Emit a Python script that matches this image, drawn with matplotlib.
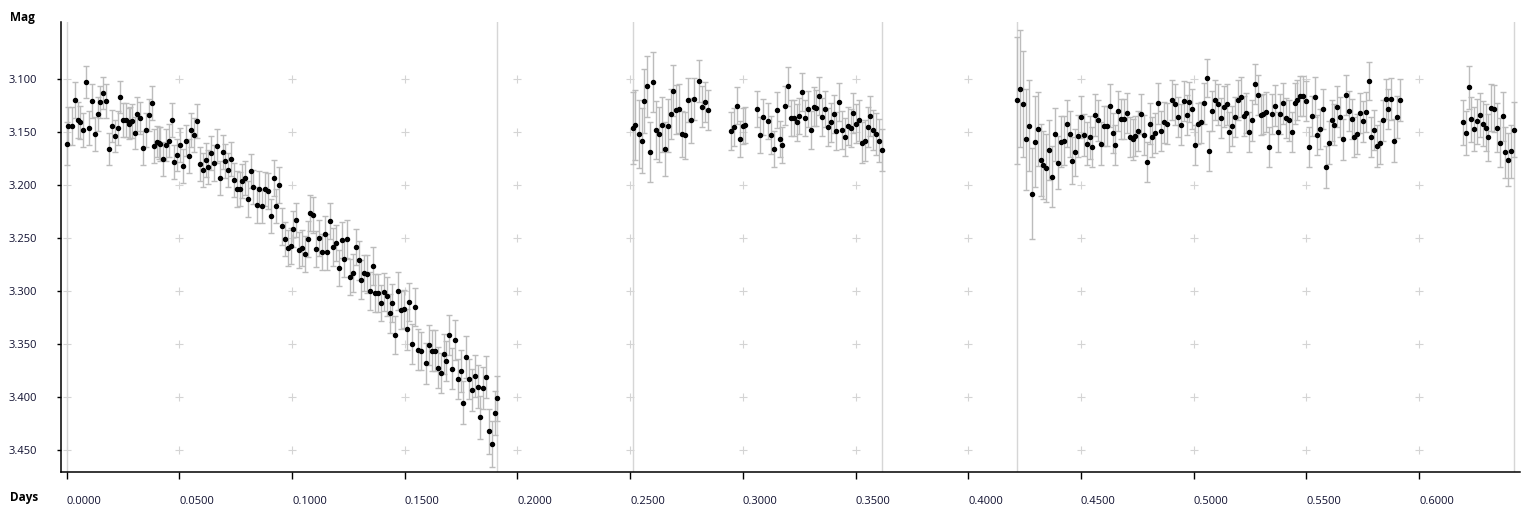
"""Light curve: magnitude vs days with error bars."""

import numpy as np
import matplotlib
matplotlib.use('Agg')
import matplotlib.pyplot as plt

plt.rcParams['font.family'] = ['Open Sans', 'DejaVu Sans']

# --- night 1 -------------------------------------------------------------
days1 = [
    0.0000, 0.0007, 0.0022, 0.0037, 0.0049, 0.0059, 0.0071, 0.0086, 0.0098, 0.0111,
    0.0126, 0.0138, 0.0148, 0.0160, 0.0173, 0.0188, 0.0200, 0.0213, 0.0226, 0.0236,
    0.0248, 0.0263, 0.0275, 0.0282, 0.0291, 0.0303, 0.0311, 0.0324, 0.0337, 0.0350,
    0.0365, 0.0378, 0.0387, 0.0401, 0.0408, 0.0415, 0.0426, 0.0439, 0.0453, 0.0466,
    0.0475, 0.0488, 0.0503, 0.0515, 0.0528, 0.0543, 0.0550, 0.0565, 0.0577, 0.0590,
    0.0603, 0.0617, 0.0627, 0.0639, 0.0652, 0.0665, 0.0679, 0.0692, 0.0702, 0.0716,
    0.0728, 0.0741, 0.0754, 0.0768, 0.0778, 0.0791, 0.0803, 0.0816, 0.0829, 0.0843,
    0.0853, 0.0865, 0.0878, 0.0892, 0.0905, 0.0918, 0.0927, 0.0941, 0.0954, 0.0967,
    0.0980, 0.0994, 0.1004, 0.1016, 0.1031, 0.1043, 0.1057, 0.1071, 0.1078, 0.1091,
    0.1105, 0.1118, 0.1131, 0.1145, 0.1154, 0.1167, 0.1181, 0.1193, 0.1207, 0.1220,
    0.1229, 0.1242, 0.1256, 0.1269, 0.1282, 0.1295, 0.1304, 0.1318, 0.1331, 0.1344,
    0.1358, 0.1366, 0.1380, 0.1393, 0.1406, 0.1420, 0.1433, 0.1443, 0.1455, 0.1469,
    0.1482, 0.1495, 0.1508, 0.1517, 0.1531, 0.1544, 0.1557, 0.1571, 0.1593, 0.1606,
    0.1619, 0.1633, 0.1646, 0.1659, 0.1673, 0.1681, 0.1695, 0.1708, 0.1721, 0.1735,
    0.1748, 0.1757, 0.1770, 0.1784, 0.1797, 0.1810, 0.1823, 0.1832, 0.1846, 0.1859,
    0.1872, 0.1886, 0.1899, 0.1908,
]
mag1 = [
    3.161, 3.144, 3.144, 3.120, 3.139, 3.141, 3.148, 3.103, 3.146, 3.121,
    3.152, 3.133, 3.122, 3.113, 3.121, 3.166, 3.144, 3.154, 3.146, 3.117,
    3.139, 3.139, 3.142, 3.141, 3.140, 3.151, 3.133, 3.137, 3.165, 3.148,
    3.134, 3.123, 3.163, 3.159, 3.160, 3.161, 3.175, 3.162, 3.158, 3.139,
    3.178, 3.172, 3.162, 3.182, 3.158, 3.173, 3.148, 3.153, 3.140, 3.180,
    3.186, 3.176, 3.183, 3.170, 3.179, 3.163, 3.193, 3.169, 3.177, 3.186,
    3.175, 3.195, 3.204, 3.204, 3.196, 3.193, 3.213, 3.187, 3.202, 3.219,
    3.204, 3.220, 3.204, 3.206, 3.229, 3.193, 3.220, 3.200, 3.239, 3.251,
    3.259, 3.257, 3.241, 3.233, 3.261, 3.259, 3.265, 3.251, 3.226, 3.228,
    3.260, 3.250, 3.263, 3.246, 3.263, 3.234, 3.258, 3.255, 3.278, 3.252,
    3.270, 3.251, 3.287, 3.283, 3.258, 3.271, 3.289, 3.283, 3.284, 3.300,
    3.276, 3.302, 3.302, 3.311, 3.301, 3.305, 3.321, 3.311, 3.341, 3.300,
    3.318, 3.317, 3.336, 3.310, 3.350, 3.315, 3.355, 3.356, 3.368, 3.351,
    3.356, 3.356, 3.372, 3.377, 3.359, 3.366, 3.341, 3.373, 3.346, 3.383,
    3.375, 3.405, 3.362, 3.383, 3.393, 3.380, 3.390, 3.419, 3.391, 3.381,
    3.432, 3.444, 3.415, 3.401,
]
err1 = [
    0.020, 0.018, 0.018, 0.017, 0.017, 0.016, 0.016, 0.015, 0.016, 0.016,
    0.016, 0.016, 0.015, 0.015, 0.016, 0.015, 0.015, 0.015, 0.016, 0.015,
    0.016, 0.016, 0.015, 0.015, 0.016, 0.015, 0.016, 0.015, 0.016, 0.016,
    0.015, 0.016, 0.016, 0.015, 0.015, 0.016, 0.016, 0.015, 0.016, 0.016,
    0.016, 0.015, 0.016, 0.016, 0.015, 0.016, 0.016, 0.016, 0.016, 0.016,
    0.016, 0.016, 0.016, 0.016, 0.017, 0.016, 0.016, 0.016, 0.016, 0.016,
    0.016, 0.016, 0.017, 0.016, 0.016, 0.016, 0.017, 0.016, 0.016, 0.017,
    0.017, 0.016, 0.016, 0.017, 0.016, 0.017, 0.016, 0.017, 0.017, 0.016,
    0.017, 0.017, 0.017, 0.016, 0.017, 0.017, 0.017, 0.017, 0.017, 0.017,
    0.017, 0.017, 0.017, 0.017, 0.017, 0.017, 0.018, 0.017, 0.017, 0.017,
    0.017, 0.018, 0.017, 0.018, 0.017, 0.018, 0.018, 0.017, 0.018, 0.018,
    0.018, 0.018, 0.018, 0.017, 0.018, 0.018, 0.018, 0.018, 0.018, 0.018,
    0.018, 0.018, 0.019, 0.018, 0.019, 0.018, 0.019, 0.018, 0.019, 0.019,
    0.019, 0.019, 0.019, 0.019, 0.019, 0.019, 0.019, 0.019, 0.019, 0.019,
    0.020, 0.020, 0.020, 0.019, 0.020, 0.020, 0.020, 0.020, 0.020, 0.020,
    0.021, 0.022, 0.021, 0.021,
]

# --- night 2 -------------------------------------------------------------
days2 = [
    0.2511, 0.2520, 0.2538, 0.2551, 0.2560, 0.2573, 0.2587, 0.2600, 0.2613, 0.2626,
    0.2640, 0.2653, 0.2666, 0.2680, 0.2689, 0.2702, 0.2715, 0.2728, 0.2742, 0.2755,
    0.2768, 0.2782, 0.2804, 0.2817, 0.2831, 0.2844,
    0.2946, 0.2959, 0.2972, 0.2986, 0.2999, 0.3008,
    0.3061, 0.3075, 0.3088, 0.3110, 0.3123, 0.3137, 0.3150, 0.3163, 0.3172, 0.3186,
    0.3199, 0.3212, 0.3225, 0.3239, 0.3248, 0.3261, 0.3274, 0.3288, 0.3301, 0.3314,
    0.3323, 0.3336, 0.3350, 0.3363, 0.3376, 0.3390, 0.3403, 0.3412, 0.3425, 0.3438,
    0.3452, 0.3465, 0.3478, 0.3487, 0.3500, 0.3514, 0.3527, 0.3540, 0.3554, 0.3563,
    0.3576, 0.3589, 0.3602, 0.3616,
]
mag2 = [
    3.146, 3.143, 3.152, 3.158, 3.121, 3.107, 3.169, 3.103, 3.148, 3.152,
    3.143, 3.166, 3.144, 3.133, 3.111, 3.129, 3.128, 3.152, 3.153, 3.120,
    3.139, 3.119, 3.102, 3.126, 3.122, 3.129,
    3.149, 3.145, 3.125, 3.157, 3.144, 3.143,
    3.128, 3.153, 3.136, 3.140, 3.153, 3.166, 3.129, 3.157, 3.162, 3.125,
    3.107, 3.137, 3.137, 3.141, 3.135, 3.112, 3.137, 3.128, 3.148, 3.126,
    3.127, 3.116, 3.136, 3.128, 3.145, 3.141, 3.133, 3.149, 3.122, 3.148,
    3.155, 3.144, 3.146, 3.132, 3.142, 3.139, 3.160, 3.158, 3.145, 3.135,
    3.148, 3.152, 3.158, 3.167,
]
err2 = [
    0.034, 0.033, 0.032, 0.031, 0.030, 0.029, 0.028, 0.028, 0.027, 0.026,
    0.026, 0.025, 0.025, 0.024, 0.024, 0.023, 0.023, 0.022, 0.022, 0.021,
    0.021, 0.020, 0.020, 0.019, 0.019, 0.019,
    0.018, 0.018, 0.017, 0.017, 0.017, 0.017,
    0.017, 0.017, 0.017, 0.017, 0.018, 0.017, 0.017, 0.017, 0.017, 0.018,
    0.018, 0.017, 0.017, 0.017, 0.017, 0.018, 0.017, 0.017, 0.018, 0.018,
    0.017, 0.018, 0.018, 0.017, 0.018, 0.018, 0.018, 0.018, 0.018, 0.018,
    0.018, 0.018, 0.018, 0.019, 0.018, 0.019, 0.019, 0.019, 0.019, 0.019,
    0.019, 0.020, 0.020, 0.020,
]

# --- night 3 -------------------------------------------------------------
days3 = [
    0.4215, 0.4228, 0.4241, 0.4255, 0.4268, 0.4281, 0.4295, 0.4308, 0.4321, 0.4330,
    0.4343, 0.4357, 0.4370, 0.4383, 0.4397, 0.4410, 0.4423, 0.4437, 0.4450, 0.4459,
    0.4472, 0.4485, 0.4499, 0.4512, 0.4525, 0.4539, 0.4547, 0.4561, 0.4574, 0.4587,
    0.4601, 0.4614, 0.4627, 0.4641, 0.4650, 0.4663, 0.4676, 0.4690, 0.4703, 0.4716,
    0.4729, 0.4738, 0.4752, 0.4765, 0.4778, 0.4792, 0.4805, 0.4814, 0.4827, 0.4840,
    0.4854, 0.4867, 0.4880, 0.4902, 0.4916, 0.4929, 0.4942, 0.4956, 0.4969, 0.4978,
    0.4991, 0.5004, 0.5018, 0.5031, 0.5044, 0.5058, 0.5067, 0.5080, 0.5093, 0.5107,
    0.5120, 0.5133, 0.5146, 0.5155, 0.5169, 0.5182, 0.5195, 0.5209, 0.5222, 0.5231,
    0.5244, 0.5257, 0.5271, 0.5284, 0.5297, 0.5306, 0.5319, 0.5333, 0.5346, 0.5359,
    0.5373, 0.5382, 0.5395, 0.5408, 0.5422, 0.5435, 0.5448, 0.5457, 0.5470, 0.5484,
    0.5497, 0.5510, 0.5524, 0.5537, 0.5546, 0.5559, 0.5572, 0.5586, 0.5599, 0.5612,
    0.5621, 0.5634, 0.5648, 0.5661, 0.5674, 0.5688, 0.5701, 0.5710, 0.5723, 0.5736,
    0.5750, 0.5763, 0.5776, 0.5785, 0.5799, 0.5812, 0.5825, 0.5838, 0.5852, 0.5861,
    0.5874, 0.5889, 0.5901, 0.5914,
    0.6193, 0.6207, 0.6220, 0.6229, 0.6242, 0.6256, 0.6269, 0.6282, 0.6295, 0.6304,
    0.6318, 0.6331, 0.6344, 0.6358, 0.6371, 0.6380, 0.6393, 0.6407, 0.6420,
]
mag3 = [
    3.120, 3.109, 3.124, 3.157, 3.144, 3.208, 3.159, 3.147, 3.176, 3.181,
    3.184, 3.167, 3.192, 3.152, 3.179, 3.159, 3.158, 3.142, 3.152, 3.177,
    3.169, 3.154, 3.136, 3.153, 3.161, 3.155, 3.164, 3.134, 3.139, 3.161,
    3.144, 3.144, 3.125, 3.151, 3.162, 3.130, 3.138, 3.138, 3.132, 3.155,
    3.157, 3.154, 3.149, 3.133, 3.153, 3.178, 3.142, 3.155, 3.151, 3.123,
    3.149, 3.141, 3.142, 3.120, 3.124, 3.136, 3.143, 3.121, 3.134, 3.122,
    3.128, 3.162, 3.142, 3.141, 3.123, 3.099, 3.168, 3.130, 3.120, 3.124,
    3.137, 3.126, 3.124, 3.150, 3.144, 3.136, 3.120, 3.117, 3.135, 3.132,
    3.150, 3.139, 3.105, 3.115, 3.134, 3.133, 3.131, 3.164, 3.133, 3.125,
    3.150, 3.133, 3.123, 3.137, 3.139, 3.150, 3.123, 3.120, 3.116, 3.116,
    3.121, 3.164, 3.135, 3.117, 3.153, 3.147, 3.128, 3.183, 3.160, 3.139,
    3.143, 3.126, 3.136, 3.157, 3.115, 3.130, 3.138, 3.155, 3.152, 3.132,
    3.140, 3.131, 3.102, 3.155, 3.148, 3.163, 3.160, 3.139, 3.119, 3.128,
    3.119, 3.158, 3.136, 3.120,
    3.141, 3.151, 3.108, 3.138, 3.147, 3.140, 3.134, 3.142, 3.146, 3.155,
    3.127, 3.128, 3.146, 3.160, 3.135, 3.169, 3.176, 3.168, 3.148,
]
err3 = [
    0.060, 0.055, 0.050, 0.048, 0.043, 0.043, 0.043, 0.035, 0.034, 0.032,
    0.032, 0.028, 0.029, 0.025, 0.025, 0.024, 0.023, 0.022, 0.022, 0.022,
    0.022, 0.020, 0.020, 0.020, 0.020, 0.020, 0.019, 0.020, 0.019, 0.020,
    0.019, 0.019, 0.020, 0.019, 0.019, 0.019, 0.019, 0.019, 0.019, 0.019,
    0.019, 0.019, 0.019, 0.019, 0.019, 0.019, 0.019, 0.019, 0.019, 0.019,
    0.019, 0.019, 0.019, 0.019, 0.019, 0.019, 0.019, 0.019, 0.019, 0.019,
    0.019, 0.019, 0.019, 0.019, 0.019, 0.018, 0.019, 0.019, 0.019, 0.019,
    0.019, 0.019, 0.019, 0.019, 0.019, 0.019, 0.019, 0.019, 0.019, 0.019,
    0.019, 0.019, 0.019, 0.019, 0.019, 0.019, 0.019, 0.019, 0.019, 0.019,
    0.019, 0.019, 0.019, 0.019, 0.019, 0.019, 0.019, 0.019, 0.019, 0.019,
    0.019, 0.019, 0.019, 0.019, 0.019, 0.019, 0.019, 0.020, 0.020, 0.019,
    0.019, 0.019, 0.019, 0.019, 0.019, 0.019, 0.019, 0.019, 0.019, 0.019,
    0.019, 0.019, 0.018, 0.019, 0.019, 0.020, 0.020, 0.019, 0.019, 0.019,
    0.020, 0.020, 0.020, 0.020,
    0.021, 0.021, 0.020, 0.021, 0.021, 0.021, 0.021, 0.021, 0.022, 0.022,
    0.022, 0.022, 0.023, 0.023, 0.023, 0.024, 0.025, 0.025, 0.026,
]

# first/last frame of each night gets a light vertical rule
boundaries = [days1[0], days1[-1], days2[0], days2[-1], days3[0], days3[-1]]

x_ticks = [0.00, 0.05, 0.10, 0.15, 0.20, 0.25, 0.30, 0.35, 0.40, 0.45, 0.50, 0.55, 0.60]
y_ticks = [3.10, 3.15, 3.20, 3.25, 3.30, 3.35, 3.40, 3.45]

days = days1 + days2 + days3
mag = mag1 + mag2 + mag3
err = err1 + err2 + err3

fig = plt.figure(figsize=(15.36, 5.12), dpi=100)
ax = fig.add_axes([61 / 1536, 40 / 512, 1459 / 1536, 450 / 512])

ax.set_xlim(-0.0025, 0.6448)
ax.set_ylim(3.4704, 3.0463)

# '+' marks at every tick crossing instead of grid lines
gx, gy = np.meshgrid(x_ticks, y_ticks)
ax.plot(gx.ravel(), gy.ravel(), linestyle='none', marker='+', markersize=6,
        markeredgewidth=0.8, color='#d4d4d4', zorder=1)

for b in boundaries:
    ax.axvline(b, color='#d6d6d6', linewidth=1.0, zorder=1)

ax.errorbar(days, mag, yerr=err, fmt='o', color='black', markersize=2.9,
            ecolor='#bcbcbc', elinewidth=1.0, capsize=2.3, capthick=1.0, zorder=3)

for side in ('top', 'right'):
    ax.spines[side].set_visible(False)
for side in ('left', 'bottom'):
    ax.spines[side].set_linewidth(1.1)
    ax.spines[side].set_color('black')

ax.set_xticks(x_ticks)
ax.set_xticklabels([f"{v:.4f}" for v in x_ticks])
ax.set_yticks(y_ticks)
ax.set_yticklabels([f"{v:.3f}" for v in y_ticks])
ax.tick_params(axis='x', direction='out', length=5, width=1, pad=12,
               labelsize=8, labelcolor='#101030')
ax.tick_params(axis='y', direction='out', length=3, width=1, pad=14,
               labelsize=8, labelcolor='#101030')
for lbl in ax.get_xticklabels():
    lbl.set_horizontalalignment('left')

fig.text(10 / 1536, 1 - 17 / 512, "Mag", fontsize=8.5, fontweight='bold',
         ha='left', va='center')
fig.text(10 / 1536, 1 - 497 / 512, "Days", fontsize=8.5, fontweight='bold',
         ha='left', va='center')

fig.savefig('out.png', dpi=100)
